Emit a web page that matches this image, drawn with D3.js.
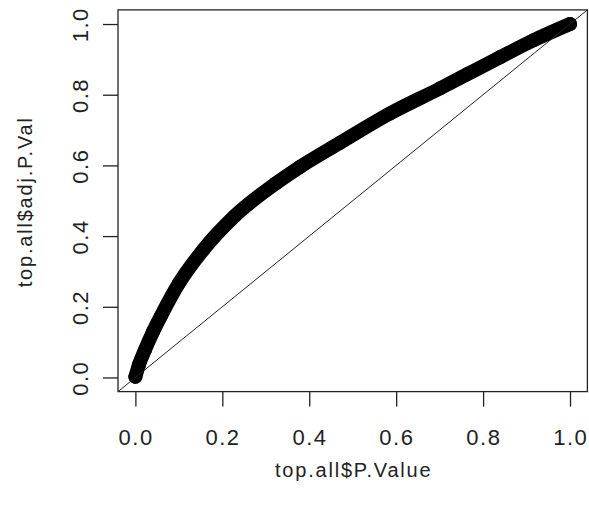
<!DOCTYPE html>
<html>
<head>
<meta charset="utf-8">
<script src="https://cdn.jsdelivr.net/npm/d3@7"></script>
<style>
    body { margin: 0; background: #fff; }
    text { font-family: "Liberation Sans", Arial, sans-serif; fill: #222; }
    .tick-label { font-size: 22px; letter-spacing: 1.5px; }
    .axis-label { font-size: 20px; letter-spacing: 1.8px; }
</style>
</head>
<body>
<div id="chart"></div>
<script>
// values (raw p-value vs BH adjusted p-value)
var pValues = [0.000, 0.008, 0.022, 0.040, 0.058, 0.100, 0.156, 0.227, 0.323, 0.379, 0.471, 0.586, 0.701, 0.762, 0.839, 0.916, 1.000];
var adjPValues = [0.002, 0.035, 0.078, 0.128, 0.172, 0.266, 0.361, 0.455, 0.549, 0.596, 0.664, 0.747, 0.818, 0.857, 0.906, 0.954, 1.000];
var xTicks = [0, 0.2, 0.4, 0.6, 0.8, 1.0];
var yTicks = [0, 0.2, 0.4, 0.6, 0.8, 1.0];
var xTitle = 'top.all$P.Value';
var yTitle = 'top.all$adj.P.Val';

var config = {
    w: 589,
    h: 512,
    left: 118,
    right: 587.4,
    top: 9.9,
    bottom: 391.6,
    tick: 15
};

var svg;
var x, y;

document.addEventListener('DOMContentLoaded', function () {
    svg = d3.select('#chart').append('svg')
        .attr('width', config.w)
        .attr('height', config.h);

    // R pads the data range by 4% on each side
    x = d3.scaleLinear().domain([-0.04, 1.04]).range([config.left, config.right]);
    y = d3.scaleLinear().domain([-0.04, 1.04]).range([config.bottom, config.top]);

    drawPoints();
    drawDiagonal();
    drawAxes();
});

function drawPoints() {
    let data = pValues.map((p, i) => ({p: p, adj: adjPValues[i]}));

    let line = d3.line()
        .x(d => x(d.p))
        .y(d => y(d.adj))
        .curve(d3.curveMonotoneX);

    svg.append('path')
        .datum(data)
        .attr('d', line)
        .attr('fill', 'none')
        .attr('stroke', '#000')
        .attr('stroke-width', 14)
        .attr('stroke-linecap', 'round')
        .attr('stroke-linejoin', 'round');

    svg.selectAll('.pt').data(data).enter()
        .append('circle')
        .attr('class', 'pt')
        .attr('cx', d => x(d.p))
        .attr('cy', d => y(d.adj))
        .attr('r', 7)
        .attr('fill', '#000');
}

function drawDiagonal() {
    // abline(0, 1) clipped to the plot box
    svg.append('line')
        .attr('x1', x(-0.04)).attr('y1', y(-0.04))
        .attr('x2', x(1.04)).attr('y2', y(1.04))
        .attr('stroke', '#222')
        .attr('stroke-width', 1);
}

function drawAxes() {
    svg.append('rect')
        .attr('x', config.left).attr('y', config.top)
        .attr('width', config.right - config.left)
        .attr('height', config.bottom - config.top)
        .attr('fill', 'none')
        .attr('stroke', '#222')
        .attr('stroke-width', 1.3);

    let xAxis = svg.append('g')
        .attr('transform', 'translate(0,' + config.bottom + ')')
        .call(d3.axisBottom(x).tickValues(xTicks).tickSize(config.tick).tickSizeOuter(0));
    xAxis.select('.domain').remove();
    xAxis.selectAll('.tick line').attr('stroke', '#222').attr('stroke-width', 1.3);
    xAxis.selectAll('.tick text').remove();

    let yAxis = svg.append('g')
        .attr('transform', 'translate(' + config.left + ',0)')
        .call(d3.axisLeft(y).tickValues(yTicks).tickSize(config.tick).tickSizeOuter(0));
    yAxis.select('.domain').remove();
    yAxis.selectAll('.tick line').attr('stroke', '#222').attr('stroke-width', 1.3);
    yAxis.selectAll('.tick text').remove();

    // tick labels drawn by hand so they sit like R's
    svg.selectAll('.x-tick-label').data(xTicks).enter()
        .append('text').classed('tick-label', true)
        .attr('text-anchor', 'middle')
        .attr('x', d => x(d) + 0.75)
        .attr('y', 445)
        .text(d => d3.format('.1f')(d));

    svg.selectAll('.y-tick-label').data(yTicks).enter()
        .append('text').classed('tick-label', true)
        .attr('text-anchor', 'middle')
        .attr('transform', d => `translate(${88},${y(d) + 0.75}) rotate(-90)`)
        .text(d => d3.format('.1f')(d));

    svg.append('text').classed('axis-label', true)
        .attr('text-anchor', 'middle')
        .attr('x', (config.left + config.right) / 2 + 1)
        .attr('y', 477)
        .text(xTitle);

    svg.append('text').classed('axis-label', true)
        .attr('text-anchor', 'middle')
        .attr('transform', `translate(${32},${(config.top + config.bottom) / 2 + 1}) rotate(-90)`)
        .text(yTitle);
}
</script>
</body>
</html>
